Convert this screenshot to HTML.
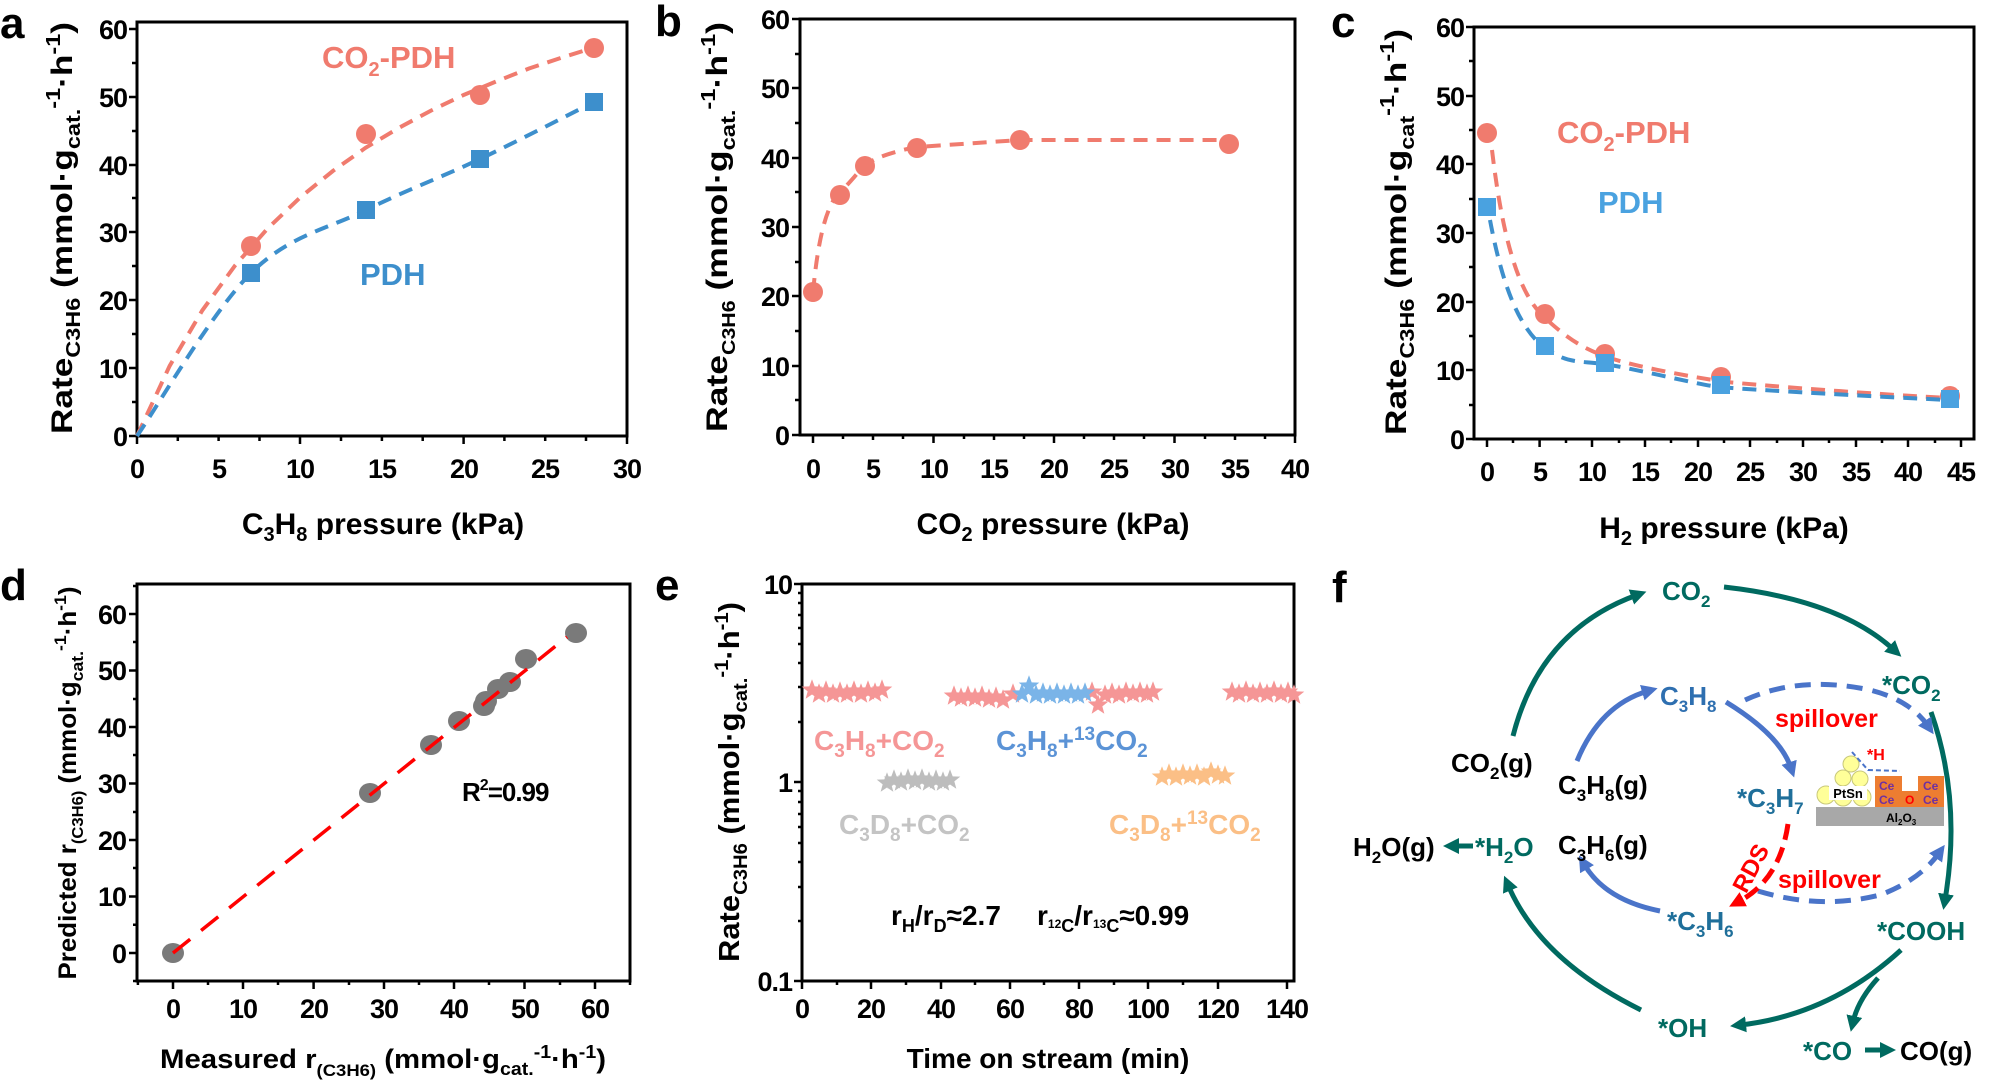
<!DOCTYPE html>
<html><head><meta charset="utf-8"><style>
body{margin:0;background:#fff}
svg{display:block}
text{font-family:"Liberation Sans",Arial,sans-serif;font-weight:bold}
.tk{font-size:27px;letter-spacing:-1px}
.ax{stroke:#000;stroke-width:3;fill:none}
.t{stroke:#000;stroke-width:2.5}
.pl{font-size:44px}
</style></head><body>
<svg width="1998" height="1084" viewBox="0 0 1998 1084" xmlns="http://www.w3.org/2000/svg">
<defs>
<symbol id="st" viewBox="-10 -10 20 20" overflow="visible"><path d="M0,-9 L2.23,-3.07 L8.56,-2.78 L3.61,1.17 L5.29,7.28 L0,3.8 L-5.29,7.28 L-3.61,1.17 L-8.56,-2.78 L-2.23,-3.07Z"/></symbol>
<marker id="mt" markerUnits="userSpaceOnUse" markerWidth="20" markerHeight="20" refX="6" refY="8" orient="auto"><path d="M0,0 L16,8 L0,16 z" fill="#006a60"/></marker>
<marker id="mb" markerUnits="userSpaceOnUse" markerWidth="20" markerHeight="20" refX="6" refY="8" orient="auto"><path d="M0,0 L16,8 L0,16 z" fill="#4a74c9"/></marker>
<marker id="mr" markerUnits="userSpaceOnUse" markerWidth="20" markerHeight="20" refX="6" refY="8" orient="auto"><path d="M0,0 L16,8 L0,16 z" fill="#f00"/></marker>
</defs>

<!-- Panel a -->
<text class="pl" x="0" y="38">a</text>
<rect class="ax" x="137" y="22" width="490" height="414"/>
<g class="t">
<path d="M137,436v8M218.6,436v5M300,436v8M381.9,436v5M463.6,436v8M545.2,436v5M627,436v8M177.8,436v5M259.5,436v5M341,436v5M422.7,436v5M504.4,436v5M586,436v5"/>
<path d="M137,436h-8M137,402h-5M137,368h-8M137,334h-5M137,300h-8M137,266h-5M137,232h-8M137,198h-5M137,165h-8M137,131h-5M137,97h-8M137,63h-5M137,29h-8"/>
</g>
<g class="tk" text-anchor="end"><text x="127" y="446">0</text><text x="127" y="378">10</text><text x="127" y="310">20</text><text x="127" y="242">30</text><text x="127" y="175">40</text><text x="127" y="107">50</text><text x="127" y="39">60</text></g>
<g class="tk" text-anchor="middle"><text x="137" y="478">0</text><text x="219" y="478">5</text><text x="300" y="478">10</text><text x="382" y="478">15</text><text x="464" y="478">20</text><text x="545" y="478">25</text><text x="627" y="478">30</text></g>
<text x="383" y="534" text-anchor="middle" font-size="30">C<tspan font-size="20" dy="7">3</tspan><tspan dy="-7">H</tspan><tspan font-size="20" dy="7">8</tspan><tspan dy="-7"> pressure (kPa)</tspan></text>
<text transform="translate(72,228) rotate(-90)" text-anchor="middle" font-size="30" textLength="412" lengthAdjust="spacingAndGlyphs">Rate<tspan font-size="20" dy="8">C3H6</tspan><tspan dy="-8"> (mmol·g</tspan><tspan font-size="20" dy="8">cat.</tspan><tspan font-size="20" dy="-20">-1</tspan><tspan dy="12">·h</tspan><tspan font-size="20" dy="-12">-1</tspan><tspan dy="12">)</tspan></text>
<polyline points="137,436 169.7,365.8 202.3,310.4 235,265.6 267.6,228.5 300.3,197.3 333,170.9 365.6,147.8 398.3,128.2 431,110.6 463.6,95 496.3,81.4 529,68.5 561.6,57.7 594.2,47.5" fill="none" stroke="#f07b6e" stroke-width="4" stroke-dasharray="14,9"/>
<path d="M137,436 C156,408.8 212.8,310.7 251,273 C289.2,235.3 327.8,229 366,210 C404.2,191 442,177 480,159 C518,141 575,111.5 594,102" fill="none" stroke="#3d8fcc" stroke-width="4" stroke-dasharray="14,9"/>
<g fill="#f07b6e"><circle cx="251" cy="246" r="10"/><circle cx="366" cy="134" r="10"/><circle cx="480" cy="95" r="10"/><circle cx="594" cy="48" r="10"/></g>
<g fill="#3d8fcc"><rect x="242" y="264" width="18" height="18"/><rect x="357" y="201" width="18" height="18"/><rect x="471" y="150" width="18" height="18"/><rect x="585" y="93" width="18" height="18"/></g>
<text x="322" y="68" fill="#f07b6e" font-size="31">CO<tspan font-size="20" dy="8">2</tspan><tspan dy="-8">-PDH</tspan></text>
<text x="360" y="285" fill="#3d8fcc" font-size="31">PDH</text>

<!-- Panel b -->
<text class="pl" x="655" y="36">b</text>
<rect class="ax" x="800" y="19" width="495" height="416"/>
<g class="t">
<path d="M813,435v8M873,435v5M933.5,435v8M994,435v5M1054,435v8M1114,435v5M1174.5,435v8M1235,435v5M1295,435v8M843,435v4M903,435v4M964,435v4M1024,435v4M1084,435v4M1144,435v4M1205,435v4M1265,435v4"/>
<path d="M800,435h-8M800,400h-5M800,366h-8M800,331h-5M800,296h-8M800,262h-5M800,227h-8M800,192h-5M800,158h-8M800,123h-5M800,88h-8M800,54h-5M800,19h-8"/>
</g>
<g class="tk" text-anchor="end"><text x="789" y="445">0</text><text x="789" y="376">10</text><text x="789" y="306">20</text><text x="789" y="237">30</text><text x="789" y="168">40</text><text x="789" y="98">50</text><text x="789" y="29">60</text></g>
<g class="tk" text-anchor="middle"><text x="813" y="478">0</text><text x="873" y="478">5</text><text x="934" y="478">10</text><text x="994" y="478">15</text><text x="1054" y="478">20</text><text x="1114" y="478">25</text><text x="1175" y="478">30</text><text x="1235" y="478">35</text><text x="1295" y="478">40</text></g>
<text x="1053" y="534" text-anchor="middle" font-size="30">CO<tspan font-size="20" dy="7">2</tspan><tspan dy="-7"> pressure (kPa)</tspan></text>
<text transform="translate(727,227) rotate(-90)" text-anchor="middle" font-size="30" textLength="410" lengthAdjust="spacingAndGlyphs">Rate<tspan font-size="18" dy="8">C3H6</tspan><tspan dy="-8"> (mmol·g</tspan><tspan font-size="20" dy="8">cat.</tspan><tspan font-size="20" dy="-20">-1</tspan><tspan dy="12">·h</tspan><tspan font-size="20" dy="-12">-1</tspan><tspan dy="12">)</tspan></text>
<path d="M813,292 C818,240 826,205 840,192 S860,168 870,162 S900,150 917,147 L1020,140 L1229,140" fill="none" stroke="#f07b6e" stroke-width="4" stroke-dasharray="14,9"/>
<g fill="#f07b6e"><circle cx="813" cy="292" r="10"/><circle cx="840" cy="195" r="10"/><circle cx="865" cy="166" r="10"/><circle cx="917" cy="148" r="10"/><circle cx="1020" cy="140" r="10"/><circle cx="1229" cy="144" r="10"/></g>

<!-- Panel c -->
<text class="pl" x="1331" y="37">c</text>
<rect class="ax" x="1474" y="27" width="500" height="412"/>
<g class="t">
<path d="M1487,439v8M1539.6,439v8M1592,439v8M1645,439v8M1698,439v8M1750,439v8M1803,439v8M1856,439v8M1908,439v8M1961,439v8M1513,439v4M1566,439v4M1619,439v4M1671,439v4M1724,439v4M1777,439v4M1829,439v4M1882,439v4M1935,439v4"/>
<path d="M1474,439h-8M1474,405h-5M1474,370h-8M1474,336h-5M1474,302h-8M1474,267h-5M1474,233h-8M1474,199h-5M1474,164h-8M1474,130h-5M1474,96h-8M1474,61h-5M1474,27h-8"/>
</g>
<g class="tk" text-anchor="end"><text x="1464" y="449">0</text><text x="1464" y="380">10</text><text x="1464" y="312">20</text><text x="1464" y="243">30</text><text x="1464" y="174">40</text><text x="1464" y="106">50</text><text x="1464" y="37">60</text></g>
<g class="tk" text-anchor="middle"><text x="1487" y="481">0</text><text x="1540" y="481">5</text><text x="1592" y="481">10</text><text x="1645" y="481">15</text><text x="1698" y="481">20</text><text x="1750" y="481">25</text><text x="1803" y="481">30</text><text x="1856" y="481">35</text><text x="1908" y="481">40</text><text x="1961" y="481">45</text></g>
<text x="1724" y="538" text-anchor="middle" font-size="30">H<tspan font-size="20" dy="7">2</tspan><tspan dy="-7"> pressure (kPa)</tspan></text>
<text transform="translate(1406,232) rotate(-90)" text-anchor="middle" font-size="30" textLength="406" lengthAdjust="spacingAndGlyphs">Rate<tspan font-size="20" dy="8">C3H6</tspan><tspan dy="-8"> (mmol·g</tspan><tspan font-size="20" dy="8">cat</tspan><tspan font-size="20" dy="-20">-1</tspan><tspan dy="12">·h</tspan><tspan font-size="20" dy="-12">-1</tspan><tspan dy="12">)</tspan></text>
<path d="M1492,150 C1505,260 1525,300 1545,318 S1580,348 1610,358 S1700,378 1719,381 S1900,396 1950,398" fill="none" stroke="#f07b6e" stroke-width="4" stroke-dasharray="14,9"/>
<path d="M1490,220 C1505,300 1525,335 1548,350 S1580,360 1610,365 S1700,385 1719,387 S1900,398 1950,400" fill="none" stroke="#3d8fcc" stroke-width="4" stroke-dasharray="14,9"/>
<g fill="#f07b6e"><circle cx="1487" cy="133" r="10"/><circle cx="1545" cy="314" r="10"/><circle cx="1605" cy="354" r="10"/><circle cx="1721" cy="377" r="10"/><circle cx="1950" cy="396" r="10"/></g>
<g fill="#4aa2e0"><rect x="1478" y="198" width="18" height="18"/><rect x="1536" y="337" width="18" height="18"/><rect x="1596" y="354" width="18" height="18"/><rect x="1712" y="376" width="18" height="18"/><rect x="1941" y="390" width="18" height="18"/></g>
<text x="1557" y="143" fill="#f07b6e" font-size="31">CO<tspan font-size="20" dy="8">2</tspan><tspan dy="-8">-PDH</tspan></text>
<text x="1598" y="213" fill="#4aa2e0" font-size="31">PDH</text>

<!-- Panel d -->
<text class="pl" x="0" y="600">d</text>
<rect class="ax" x="137" y="584" width="493" height="397"/>
<g class="t">
<path d="M173,981v8M243,981v8M313.6,981v8M384,981v8M454,981v8M524.5,981v8M595,981v8M137.9,981v4M208,981v4M278,981v4M349,981v4M419,981v4M489,981v4M560,981v4M630,981v4"/>
<path d="M137,953h-8M137,924.8h-4M137,896.5h-8M137,868h-4M137,840h-8M137,812h-4M137,783.5h-8M137,755h-4M137,727h-8M137,699h-4M137,670.5h-8M137,642h-4M137,614h-8M137,981h-4M137,586h-4"/>
</g>
<g class="tk" text-anchor="end"><text x="126" y="963">0</text><text x="126" y="906">10</text><text x="126" y="850">20</text><text x="126" y="793">30</text><text x="126" y="737">40</text><text x="126" y="680">50</text><text x="126" y="624">60</text></g>
<g class="tk" text-anchor="middle"><text x="173" y="1018">0</text><text x="243" y="1018">10</text><text x="314" y="1018">20</text><text x="384" y="1018">30</text><text x="454" y="1018">40</text><text x="525" y="1018">50</text><text x="595" y="1018">60</text></g>
<text x="383" y="1068" text-anchor="middle" font-size="27" textLength="446" lengthAdjust="spacingAndGlyphs">Measured r<tspan font-size="17" dy="8">(C3H6)</tspan><tspan dy="-8"> (mmol·g</tspan><tspan font-size="18" dy="7">cat.</tspan><tspan font-size="18" dy="-17">-1</tspan><tspan dy="10">·h</tspan><tspan font-size="18" dy="-10">-1</tspan><tspan dy="10">)</tspan></text>
<text transform="translate(76,783) rotate(-90)" text-anchor="middle" font-size="25" textLength="393" lengthAdjust="spacingAndGlyphs">Predicted r<tspan font-size="16" dy="7">(C3H6)</tspan><tspan dy="-7"> (mmol·g</tspan><tspan font-size="17" dy="7">cat.</tspan><tspan font-size="17" dy="-17">-1</tspan><tspan dy="10">·h</tspan><tspan font-size="17" dy="-10">-1</tspan><tspan dy="10">)</tspan></text>
<g fill="#7a7a7a"><ellipse cx="173" cy="953" rx="11" ry="10"/><ellipse cx="370" cy="793" rx="11" ry="10"/><ellipse cx="431" cy="745" rx="11" ry="10"/><ellipse cx="459" cy="721" rx="11" ry="10"/><ellipse cx="484" cy="706" rx="11" ry="10"/><ellipse cx="486" cy="701" rx="11" ry="10"/><ellipse cx="498" cy="689" rx="11" ry="10"/><ellipse cx="510" cy="682" rx="11" ry="10"/><ellipse cx="526" cy="659" rx="11" ry="10"/><ellipse cx="576" cy="633" rx="11" ry="10"/></g>
<path d="M173,953 L567,637" stroke="#f00" stroke-width="3.5" stroke-dasharray="22,14"/>
<text x="462" y="801" font-size="26" letter-spacing="-1">R<tspan font-size="16" dy="-11">2</tspan><tspan dy="11">=0.99</tspan></text>

<!-- Panel e -->
<text class="pl" x="655" y="600">e</text>
<rect class="ax" x="802" y="584" width="492" height="397"/>
<g class="t">
<path d="M802,981v8M871,981v8M941,981v8M1010,981v8M1079,981v8M1148,981v8M1218,981v8M1287,981v8M837,981v4M906,981v4M975,981v4M1044,981v4M1114,981v4M1183,981v4"/>
<path d="M802,981h-8M802,782h-8M802,584h-8M802,921h-4M802,887h-4M802,862h-4M802,843h-4M802,827h-4M802,814h-4M802,802h-4M802,791h-4M802,722h-4M802,687h-4M802,663h-4M802,644h-4M802,628h-4M802,615h-4M802,603h-4M802,593h-4"/>
</g>
<g class="tk" text-anchor="end"><text x="792" y="991">0.1</text><text x="792" y="792">1</text><text x="792" y="594">10</text></g>
<g class="tk" text-anchor="middle"><text x="802" y="1018">0</text><text x="871" y="1018">20</text><text x="941" y="1018">40</text><text x="1010" y="1018">60</text><text x="1079" y="1018">80</text><text x="1148" y="1018">100</text><text x="1218" y="1018">120</text><text x="1287" y="1018">140</text></g>
<text x="1048" y="1068" text-anchor="middle" font-size="28">Time on stream (min)</text>
<text transform="translate(739,782) rotate(-90)" text-anchor="middle" font-size="29" textLength="360" lengthAdjust="spacingAndGlyphs">Rate<tspan font-size="19" dy="8">C3H6</tspan><tspan dy="-8"> (mmol·g</tspan><tspan font-size="19" dy="8">cat.</tspan><tspan font-size="19" dy="-19">-1</tspan><tspan dy="11">·h</tspan><tspan font-size="19" dy="-11">-1</tspan><tspan dy="11">)</tspan></text>
<g fill="#f59696">
<use href="#st" x="800" y="678" width="24" height="24"/><use href="#st" x="807" y="682" width="24" height="24"/><use href="#st" x="814" y="679" width="24" height="24"/><use href="#st" x="821" y="682" width="24" height="24"/><use href="#st" x="828" y="680" width="24" height="24"/><use href="#st" x="835" y="682" width="24" height="24"/><use href="#st" x="842" y="679" width="24" height="24"/><use href="#st" x="849" y="682" width="24" height="24"/><use href="#st" x="856" y="679" width="24" height="24"/><use href="#st" x="863" y="681" width="24" height="24"/><use href="#st" x="870" y="678" width="24" height="24"/>
<use href="#st" x="942" y="684" width="24" height="24"/><use href="#st" x="949" y="686" width="24" height="24"/><use href="#st" x="956" y="684" width="24" height="24"/><use href="#st" x="963" y="686" width="24" height="24"/><use href="#st" x="970" y="684" width="24" height="24"/><use href="#st" x="977" y="687" width="24" height="24"/><use href="#st" x="984" y="685" width="24" height="24"/><use href="#st" x="991" y="688" width="24" height="24"/><use href="#st" x="1001" y="682" width="24" height="24"/>
<use href="#st" x="1080" y="680" width="24" height="24"/><use href="#st" x="1086" y="693" width="24" height="24"/><use href="#st" x="1093" y="683" width="24" height="24"/><use href="#st" x="1100" y="681" width="24" height="24"/><use href="#st" x="1107" y="683" width="24" height="24"/><use href="#st" x="1114" y="680" width="24" height="24"/><use href="#st" x="1121" y="682" width="24" height="24"/><use href="#st" x="1128" y="680" width="24" height="24"/><use href="#st" x="1135" y="682" width="24" height="24"/><use href="#st" x="1141" y="680" width="24" height="24"/>
<use href="#st" x="1220" y="680" width="24" height="24"/><use href="#st" x="1227" y="682" width="24" height="24"/><use href="#st" x="1234" y="679" width="24" height="24"/><use href="#st" x="1241" y="682" width="24" height="24"/><use href="#st" x="1248" y="680" width="24" height="24"/><use href="#st" x="1255" y="682" width="24" height="24"/><use href="#st" x="1262" y="679" width="24" height="24"/><use href="#st" x="1269" y="682" width="24" height="24"/><use href="#st" x="1276" y="680" width="24" height="24"/><use href="#st" x="1282" y="683" width="24" height="24"/>
</g>
<g fill="#7ab4e8">
<use href="#st" x="1010" y="682" width="24" height="24"/><use href="#st" x="1017" y="674" width="24" height="24"/><use href="#st" x="1024" y="683" width="24" height="24"/><use href="#st" x="1031" y="681" width="24" height="24"/><use href="#st" x="1038" y="683" width="24" height="24"/><use href="#st" x="1045" y="681" width="24" height="24"/><use href="#st" x="1052" y="683" width="24" height="24"/><use href="#st" x="1059" y="681" width="24" height="24"/><use href="#st" x="1066" y="683" width="24" height="24"/><use href="#st" x="1073" y="681" width="24" height="24"/>
</g>
<g fill="#bdbdbd">
<use href="#st" x="875" y="771" width="24" height="24"/><use href="#st" x="882" y="768" width="24" height="24"/><use href="#st" x="889" y="770" width="24" height="24"/><use href="#st" x="896" y="767" width="24" height="24"/><use href="#st" x="903" y="769" width="24" height="24"/><use href="#st" x="910" y="767" width="24" height="24"/><use href="#st" x="917" y="770" width="24" height="24"/><use href="#st" x="924" y="768" width="24" height="24"/><use href="#st" x="931" y="770" width="24" height="24"/><use href="#st" x="938" y="768" width="24" height="24"/>
</g>
<g fill="#fbbf86">
<use href="#st" x="1150" y="765" width="24" height="24"/><use href="#st" x="1157" y="762" width="24" height="24"/><use href="#st" x="1164" y="765" width="24" height="24"/><use href="#st" x="1171" y="762" width="24" height="24"/><use href="#st" x="1178" y="764" width="24" height="24"/><use href="#st" x="1185" y="762" width="24" height="24"/><use href="#st" x="1192" y="765" width="24" height="24"/><use href="#st" x="1199" y="760" width="24" height="24"/><use href="#st" x="1206" y="763" width="24" height="24"/><use href="#st" x="1213" y="764" width="24" height="24"/>
</g>
<text x="814" y="750" fill="#f59696" font-size="28">C<tspan font-size="19" dy="7">3</tspan><tspan dy="-7">H</tspan><tspan font-size="19" dy="7">8</tspan><tspan dy="-7">+CO</tspan><tspan font-size="19" dy="7">2</tspan></text>
<text x="996" y="750" fill="#5b93d6" font-size="28">C<tspan font-size="19" dy="7">3</tspan><tspan dy="-7">H</tspan><tspan font-size="19" dy="7">8</tspan><tspan dy="-7">+</tspan><tspan font-size="19" dy="-10">13</tspan><tspan dy="10">CO</tspan><tspan font-size="19" dy="7">2</tspan></text>
<text x="839" y="834" fill="#c4c4c4" font-size="28">C<tspan font-size="19" dy="7">3</tspan><tspan dy="-7">D</tspan><tspan font-size="19" dy="7">8</tspan><tspan dy="-7">+CO</tspan><tspan font-size="19" dy="7">2</tspan></text>
<text x="1109" y="834" fill="#fbbf86" font-size="28">C<tspan font-size="19" dy="7">3</tspan><tspan dy="-7">D</tspan><tspan font-size="19" dy="7">8</tspan><tspan dy="-7">+</tspan><tspan font-size="19" dy="-10">13</tspan><tspan dy="10">CO</tspan><tspan font-size="19" dy="7">2</tspan></text>
<text x="891" y="925" font-size="28">r<tspan font-size="18" dy="7">H</tspan><tspan dy="-7">/r</tspan><tspan font-size="18" dy="7">D</tspan><tspan dy="-7">≈2.7</tspan></text>
<text x="1037" y="925" font-size="28">r<tspan font-size="12" dy="3">12</tspan><tspan font-size="18" dy="4">C</tspan><tspan dy="-7">/r</tspan><tspan font-size="12" dy="3">13</tspan><tspan font-size="18" dy="4">C</tspan><tspan dy="-7">≈0.99</tspan></text>

<!-- Panel f -->
<text class="pl" x="1332" y="602">f</text>
<g fill="none" stroke="#006a60" stroke-width="5">
<path d="M1513,736 Q1540,630 1637,595" marker-end="url(#mt)"/>
<path d="M1724,587 Q1840,600 1894,650" marker-end="url(#mt)"/>
<path d="M1931,712 Q1962,800 1945,900" marker-end="url(#mt)"/>
<path d="M1901,950 Q1830,1015 1740,1025" marker-end="url(#mt)"/>
<path d="M1878,978 Q1858,1000 1853,1022" marker-end="url(#mt)"/>
<path d="M1641,1010 Q1540,960 1508,885" marker-end="url(#mt)"/>
<path d="M1473,846 L1453,846" marker-end="url(#mt)"/>
<path d="M1865,1050 L1886,1050" marker-end="url(#mt)"/>
</g>
<g fill="none" stroke="#4a74c9" stroke-width="5">
<path d="M1577,761 Q1600,705 1648,691" marker-end="url(#mb)"/>
<path d="M1726,702 Q1780,735 1791,768" marker-end="url(#mb)"/>
<path d="M1660,911 Q1605,900 1584,864" marker-end="url(#mb)"/>
<path d="M1745,700 Q1800,675 1870,690 Q1910,700 1928,726" stroke-dasharray="16,10" marker-end="url(#mb)"/>
<path d="M1758,891 Q1820,910 1880,895 Q1920,880 1939,853" stroke-dasharray="16,10" marker-end="url(#mb)"/>
</g>
<path d="M1788,824 Q1780,880 1738,902" fill="none" stroke="#f00" stroke-width="5" stroke-dasharray="16,8" marker-end="url(#mr)"/>
<rect x="1816" y="807" width="128" height="19" fill="#a8a8a8"/>
<rect x="1875" y="776" width="69" height="31" fill="#ed7d31"/>
<rect x="1902" y="776" width="16" height="15" fill="#fff"/>
<g fill="#ffff99" stroke="#c8c87a" stroke-width="1"><circle cx="1851" cy="764" r="8"/><circle cx="1843" cy="778" r="8"/><circle cx="1860" cy="779" r="8"/><circle cx="1826" cy="795" r="9"/><circle cx="1843" cy="797" r="9"/><circle cx="1862" cy="797" r="9"/></g>
<rect x="1829" y="786" width="38" height="14" fill="#fff"/>
<text x="1848" y="798" text-anchor="middle" font-size="13" font-weight="normal">PtSn</text>
<g font-size="12" fill="#7030a0"><text x="1879" y="790">Ce</text><text x="1923" y="790">Ce</text><text x="1879" y="804">Ce</text><text x="1923" y="804">Ce</text></g>
<text x="1905" y="804" font-size="12" fill="#f00">O</text>
<text x="1886" y="822" font-size="12">Al<tspan font-size="8" dy="3">2</tspan><tspan dy="-3">O</tspan><tspan font-size="8" dy="3">3</tspan></text>
<path d="M1852,752 L1868,770 L1900,771" fill="none" stroke="#4a74c9" stroke-width="2" stroke-dasharray="5,3"/>
<text x="1867" y="760" font-size="16" fill="#f00" font-weight="normal">*H</text>
<g font-size="26">
<text x="1662" y="600" fill="#006a60">CO<tspan font-size="17" dy="7">2</tspan></text>
<text x="1882" y="694" fill="#006a60">*CO<tspan font-size="17" dy="7">2</tspan></text>
<text x="1451" y="772">CO<tspan font-size="17" dy="7">2</tspan><tspan dy="-7">(g)</tspan></text>
<text x="1660" y="705" fill="#2e6fb0">C<tspan font-size="17" dy="7">3</tspan><tspan dy="-7">H</tspan><tspan font-size="17" dy="7">8</tspan></text>
<text x="1775" y="727" fill="#f00" font-size="25">spillover</text>
<text x="1558" y="794">C<tspan font-size="17" dy="7">3</tspan><tspan dy="-7">H</tspan><tspan font-size="17" dy="7">8</tspan><tspan dy="-7">(g)</tspan></text>
<text x="1737" y="807" fill="#1f6f9a">*C<tspan font-size="17" dy="7">3</tspan><tspan dy="-7">H</tspan><tspan font-size="17" dy="7">7</tspan></text>
<text x="1353" y="856">H<tspan font-size="17" dy="7">2</tspan><tspan dy="-7">O(g)</tspan></text>
<text x="1475" y="856" fill="#006a60">*H<tspan font-size="17" dy="7">2</tspan><tspan dy="-7">O</tspan></text>
<text x="1558" y="854">C<tspan font-size="17" dy="7">3</tspan><tspan dy="-7">H</tspan><tspan font-size="17" dy="7">6</tspan><tspan dy="-7">(g)</tspan></text>
<text transform="translate(1758,872) rotate(-62)" fill="#f00" font-size="24" text-anchor="middle">RDS</text>
<text x="1778" y="888" fill="#f00" font-size="25">spillover</text>
<text x="1667" y="930" fill="#1f6f9a">*C<tspan font-size="17" dy="7">3</tspan><tspan dy="-7">H</tspan><tspan font-size="17" dy="7">6</tspan></text>
<text x="1877" y="940" fill="#006a60">*COOH</text>
<text x="1658" y="1037" fill="#006a60">*OH</text>
<text x="1803" y="1060" fill="#006a60">*CO</text>
<text x="1900" y="1060">CO(g)</text>
</g>
</svg>
</body></html>
